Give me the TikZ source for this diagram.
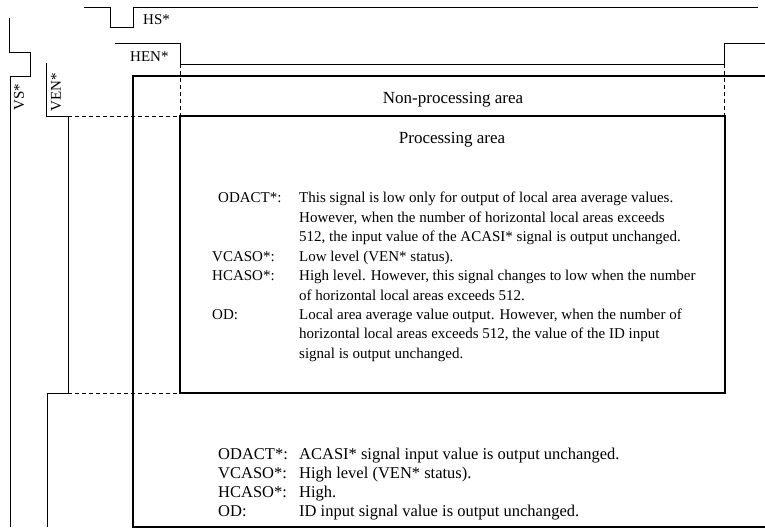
\documentclass[tikz,border=0pt]{standalone}
\usepackage{fontspec}
\setmainfont{Liberation Serif}
\begin{document}
\begin{tikzpicture}[x=1pt, y=-1pt, line join=miter]
    % Timing of the processing / non-processing areas (one frame)
    \tikzset{wave/.style={line width=0.9pt}, area/.style={line width=1.1pt}, procbox/.style={line width=2.8pt}, guide/.style={line width=0.9pt, dash pattern=on 4pt off 3pt},
        siglabel/.style={font=\fontsize{15}{18}\selectfont, inner sep=0pt}, title/.style={font=\fontsize{17}{20}\selectfont, inner sep=0pt, anchor=base},
        uppertext/.style={font=\fontsize{15}{19}\selectfont, inner sep=0pt, anchor=base west}, lowertext/.style={font=\fontsize{16.5}{19}\selectfont, inner sep=0pt, anchor=base west}}
    \useasboundingbox (0,0) rectangle (765,529);
    % sync and enable waveforms
    \draw[wave] (84,7) -- (110,7) -- (110,27) -- (133,27) -- (133,7) -- (758,7);
    \draw[wave] (115,43) -- (180,43) -- (180,64) -- (724,64) -- (724,43) -- (765,43);
    \draw[wave] (9,18) -- (9,52) -- (30,52) -- (30,76) -- (10,76) -- (10,527);
    \draw[wave] (46,63) -- (46,116) -- (68,116) -- (68,393) -- (47,393) -- (47,527);
    \node[siglabel, anchor=base west] (hs) at (143,25) {HS*};
    \node[siglabel, anchor=base west] (hen) at (130,62) {HEN*};
    \node[siglabel, rotate=90] (vs) at (19,97) {VS*};
    \node[siglabel, rotate=90] (ven) at (56,92) {VEN*};
    % areas
    \draw[area] (765,76) -- (133,76) -- (133,527) -- (765,527);
    \draw[procbox] (180,116) rectangle (725,393);
    \draw[guide] (180,64) -- (180,116); \draw[guide] (724,64) -- (724,116);
    \draw[guide] (68,116) -- (180,116); \draw[guide] (68,393) -- (180,393);
    \node[title] (nonproc) at (453,104) {Non-processing area};
    \node[title] (proc) at (452,144) {Processing area};
    % output states inside the processing area
    \foreach \lab/\row/\lx in {ODACT*:/0/218, VCASO*:/3/212, HCASO*:/4/212, OD:/6/212}
        \node[uppertext] (uplab\row) at (\lx, 203+19.4*\row) {\lab};
    \foreach \txt [count=\k from 0] in {{This signal is low only for output of local area average values.}, {However, when the number of horizontal local areas exceeds}, {512, the input value of the ACASI* signal is output unchanged.}, {Low level (VEN* status).}, {High level. However, this signal changes to low when the number}, {of horizontal local areas exceeds 512.}, {Local area average value output. However, when the number of}, {horizontal local areas exceeds 512, the value of the ID input}, {signal is output unchanged.}}
        \node[uppertext] (uptext\k) at (299, 203+19.4*\k) {\txt};
    % output states outside it
    \foreach \lab/\row in {ODACT*:/0, VCASO*:/1, HCASO*:/2, OD:/3}
        \node[lowertext] (lowlab\row) at (218, 459+19*\row) {\lab};
    \foreach \txt [count=\k from 0] in {{ACASI* signal input value is output unchanged.}, {High level (VEN* status).}, {High.}, {ID input signal value is output unchanged.}}
        \node[lowertext] (lowtext\k) at (299, 459+19*\k) {\txt};
\end{tikzpicture}
\end{document}
